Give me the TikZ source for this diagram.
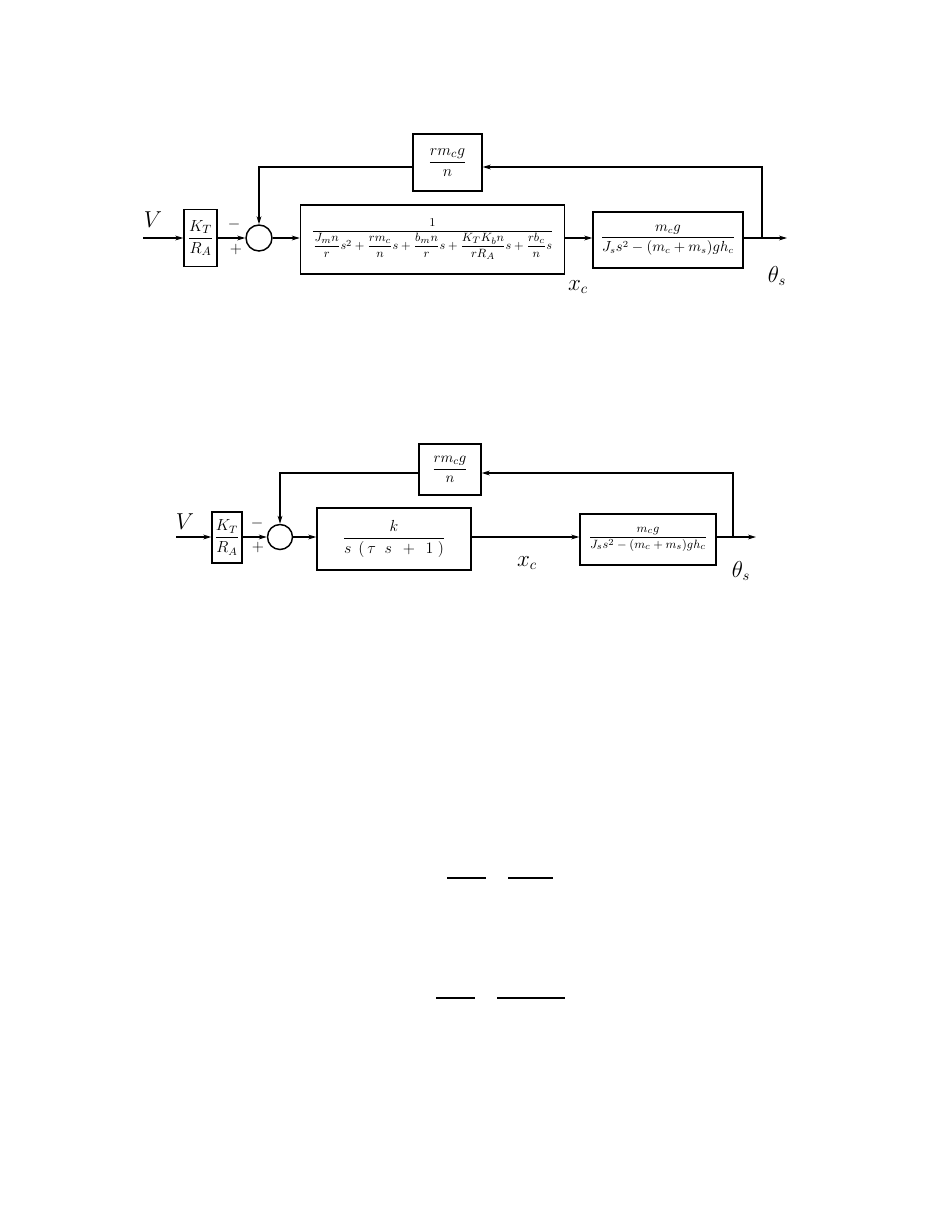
\documentclass[tikz,border=0pt]{standalone}
\usepackage{amsmath}
\usetikzlibrary{arrows.meta}
\newcommand\pxu{0.75pt}
\begin{document}
\begin{tikzpicture}[x=0.75pt,y=-0.75pt,
  blk/.style={draw,line width=1.1pt,inner sep=0pt,anchor=center},
  sig/.style={line width=1pt},
  arr/.style={sig,-{Stealth[length=6pt,width=3.6pt]}},
  sumj/.style={draw,circle,line width=1.1pt,inner sep=0pt},
  lbl/.style={inner sep=0pt,anchor=center},
  big/.style={font=\fontsize{16}{19}\selectfont},
  sgn/.style={font=\fontsize{13}{15}\selectfont}]
\path[use as bounding box,fill=white] (0,0) rectangle (935,1210);

% ---------- upper loop ----------
\node[blk,minimum width=33*\pxu,minimum height=57*\pxu,font=\fontsize{13}{15}\selectfont] (ka1) at (200.5,238) {$\dfrac{K_T}{R_A}$};
\node[sumj,minimum size=26*\pxu] (sum1) at (259,238) {};
\node[blk,minimum width=69*\pxu,minimum height=57*\pxu,font=\fontsize{12.5}{15}\selectfont] (fb1) at (447.5,162.5) {$\dfrac{r m_c g}{n}$};
\node[blk,minimum width=264*\pxu,minimum height=69*\pxu,font=\fontsize{9.5}{11}\selectfont] (G1) at (432.5,239.5)
  {$\dfrac{1}{\dfrac{J_m n}{r}s^2+\dfrac{r m_c}{n}s+\dfrac{b_m n}{r}s+\dfrac{K_T K_b n}{r R_A}s+\dfrac{r b_c}{n}s}$};
\node[blk,minimum width=150*\pxu,minimum height=56*\pxu,font=\fontsize{10.5}{13}\selectfont] (P1) at (668,240)
  {$\dfrac{m_c g}{J_s s^2-(m_c+m_s) g h_c}$};
\coordinate (in1) at (143,238);
\coordinate (br1) at (762,238);
\coordinate (out1) at (787,238);
\coordinate (fy1) at (0,167);

\draw[arr] (in1) -- (ka1.west |- in1);
\draw[arr] (ka1.east |- sum1) -- (sum1.west);
\draw[arr] (sum1.east) -- (sum1.east -| G1.west);
\draw[arr] (G1.east |- sum1) -- (P1.west |- sum1);
\draw[sig] (P1.east |- sum1) -- (br1);
\draw[arr] (br1) -- (out1);
\draw[arr] (br1) |- (fb1.east |- fy1);
\draw[arr] (fb1.west |- fy1) -| (sum1.north);

\node[lbl,big] (V1) at (153,220) {$V$};
\node[lbl,sgn] (m1) at (234,224) {$-$};
\node[lbl,sgn] (p1) at (236,249) {$+$};
\node[lbl,big] (x1) at (578,287) {$x_c$};
\node[lbl,big] (t1) at (777,276) {$\theta_s$};

% ---------- lower loop ----------
\node[blk,minimum width=30*\pxu,minimum height=51*\pxu,font=\fontsize{11.5}{13}\selectfont] (ka2) at (227,537.5) {$\dfrac{K_T}{R_A}$};
\node[sumj,minimum size=25*\pxu] (sum2) at (280,537) {};
\node[blk,minimum width=62*\pxu,minimum height=51*\pxu,font=\fontsize{11}{13}\selectfont] (fb2) at (450,469.5) {$\dfrac{r m_c g}{n}$};
\node[blk,minimum width=154*\pxu,minimum height=62*\pxu,font=\fontsize{11.5}{13}\selectfont] (G2) at (394,539)
  {$\dfrac{k}{s\;\,(\,\tau\;\; s\;\,+\;\,1\;)}$};
\node[blk,minimum width=136*\pxu,minimum height=51*\pxu,font=\fontsize{9.5}{11}\selectfont] (P2) at (648,539.5)
  {$\dfrac{m_c g}{J_s s^2-(m_c+m_s) g h_c}$};
\coordinate (in2) at (176,537);
\coordinate (br2) at (733,537);
\coordinate (out2) at (756,537);
\coordinate (fy2) at (0,473);

\draw[arr] (in2) -- (ka2.west |- in2);
\draw[arr] (ka2.east |- sum2) -- (sum2.west);
\draw[arr] (sum2.east) -- (sum2.east -| G2.west);
\draw[arr] (G2.east |- sum2) -- (P2.west |- sum2);
\draw[sig] (P2.east |- sum2) -- (br2);
\draw[arr] (br2) -- (out2);
\draw[arr] (br2) |- (fb2.east |- fy2);
\draw[arr] (fb2.west |- fy2) -| (sum2.north);

\node[lbl,big] (V2) at (185,522) {$V$};
\node[lbl,sgn] (m2) at (257,523) {$-$};
\node[lbl,sgn] (p2) at (258,547) {$+$};
\node[lbl,big] (x2) at (527,563) {$x_c$};
\node[lbl,big] (t2) at (741,571) {$\theta_s$};

% ---------- bare fraction bars ----------
\draw[sig] (447,878) -- (486,878);
\draw[sig] (508,878) -- (553,878);
\draw[sig] (436,998) -- (475,998);
\draw[sig] (497,998) -- (565,998);
\end{tikzpicture}
\end{document}
